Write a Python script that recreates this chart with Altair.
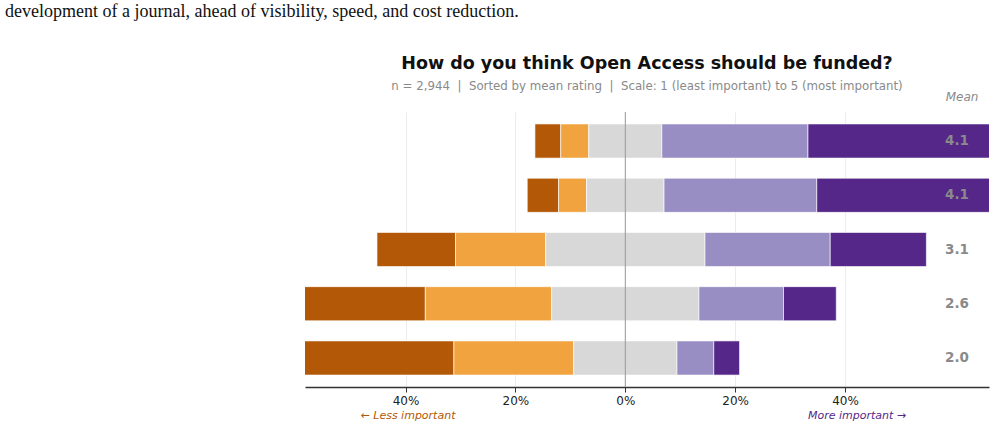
import altair as alt
import pandas as pd

categories = ["Governmental funding", "Government-journal agreements",
              "Library consortia agreements", "Author's home institution",
              "Individual research grants"]
# percentages per rating level (1 = least important ... 5 = most important)
p1 = [4.7, 5.7, 14.3, 25.2, 48.0]
p2 = [5.1, 5.1, 16.4, 23.0, 21.8]
p3 = [13.3, 14.1, 29.0, 26.8, 18.8]
p4 = [26.6, 27.8, 22.8, 15.4, 6.7]
p5 = [50.3, 47.3, 17.5, 9.6, 4.7]
means = [4.1, 4.1, 3.1, 2.6, 2.0]
levels = ["1", "2", "3", "4", "5"]
colors = ["#b35806", "#f1a340", "#d8d8d8", "#998ec3", "#542788"]
tick_values = [-40, -20, 0, 20, 40]

rows = []
for i, cat in enumerate(categories):
    vals = [p1[i], p2[i], p3[i], p4[i], p5[i]]
    start = -(vals[0] + vals[1] + vals[2] / 2)
    for lv, v in zip(levels, vals):
        rows.append({"cat": cat, "level": lv, "x0": start, "x1": start + v})
        start += v
df = pd.DataFrame(rows)
mean_df = pd.DataFrame({"cat": categories, "mean": means})

xscale = alt.Scale(domain=[-58.3, 66.2], nice=False, zero=False)
yscale = alt.Scale(domain=categories, paddingInner=0.37, paddingOuter=0.22)

bars = alt.Chart(df).mark_bar(stroke="white", strokeWidth=0.8, strokeOpacity=0.8, clip=True).encode(
    x=alt.X("x0:Q", scale=xscale,
            axis=alt.Axis(values=tick_values, labelExpr="abs(datum.value) + '%'",
                          title=None, grid=True, gridColor="#ececec",
                          domainColor="#333333", domainWidth=1.3,
                          tickColor="#333333", tickSize=5, labelFontSize=12,
                          labelColor="#222222", labelPadding=3)),
    x2="x1:Q",
    y=alt.Y("cat:N", sort=categories, scale=yscale,
            axis=alt.Axis(title=None, ticks=False, domain=False, labelFontSize=14,
                          labelColor="#111111", labelPadding=10, labelLimit=400)),
    color=alt.Color("level:N", scale=alt.Scale(domain=levels, range=colors), legend=None),
)

zero = alt.Chart(pd.DataFrame({"x": [0]})).mark_rule(color="#999999", strokeWidth=1).encode(
    x=alt.X("x:Q", scale=xscale)
)

mean_text = alt.Chart(mean_df).mark_text(fontSize=13.5, fontWeight="bold", color="#8a8a8a",
                                          align="center", baseline="middle").encode(
    x=alt.value(652),
    y=alt.Y("cat:N", sort=categories, scale=yscale, axis=None),
    text=alt.Text("mean:Q", format=".1f"),
)

def label(text, x, y, **kw):
    return alt.Chart(pd.DataFrame({"t": [text]})).mark_text(baseline="middle", **kw).encode(
        x=alt.value(x), y=alt.value(y), text="t:N")

sp = "\u00a0\u00a0"
title = label("How do you think Open Access should be funded?", 342, -48,
              fontSize=17.5, fontWeight="bold", color="#111111", align="center")
subtitle = label(f"n = 2,944{sp}|{sp}Sorted by mean rating{sp}|{sp}Scale: 1 (least important) to 5 (most important)",
                 342, -26, fontSize=11.8, color="#8a8a8a", align="center")
mean_head = label("Mean", 657, -15, fontSize=12, fontStyle="italic", color="#8a8a8a", align="center")
less = label("← Less important", 103, 304, fontSize=11, fontStyle="italic", color="#b35806", align="center")
more = label("More important →", 552, 304, fontSize=11, fontStyle="italic", color="#542788", align="center")
top_text = label("development of a journal, ahead of visibility, speed, and cost reduction.",
                 -300, -100, fontSize=18, font="Liberation Serif", color="#111111", align="left")

chart = alt.layer(bars, zero, mean_text, title, subtitle, mean_head, less, more, top_text).properties(
    width=684, height=275,
    autosize=alt.AutoSizeParams(type="none"),
    padding={"left": 305, "top": 112, "right": 8, "bottom": 43},
).configure(font="DejaVu Sans").configure_view(strokeWidth=0, stroke="transparent")

chart.save("out.html", embed_options={"renderer": "svg", "actions": False})
